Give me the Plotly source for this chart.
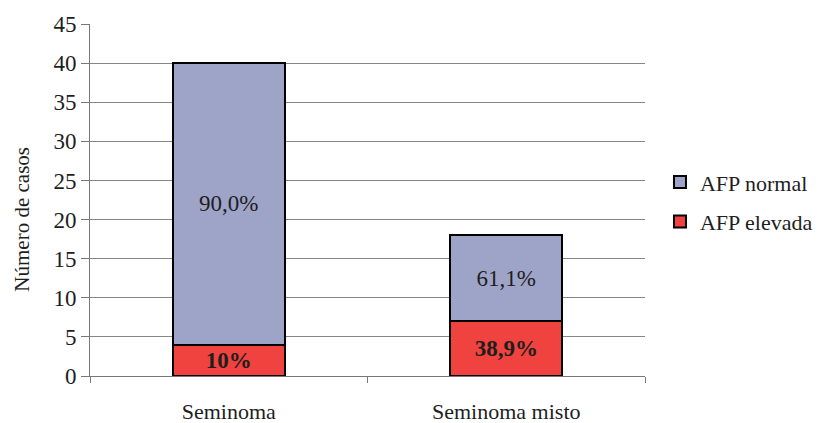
import plotly.graph_objects as go

categories = ["Seminoma", "Seminoma misto"]
afp_elevada = [4, 7]
afp_normal = [36, 11]
labels_elevada = ["<b>10%</b>", "<b>38,9%</b>"]
labels_normal = ["90,0%", "61,1%"]
y_ticks = list(range(0, 50, 5))

FONT = "Liberation Serif"
INK = "#1e1e1e"

fig = go.Figure()
fig.add_trace(go.Bar(
    x=categories, y=afp_elevada, name="AFP elevada",
    legendgroup="e", legendrank=2,
    marker=dict(color="#f0433f", line=dict(color="black", width=2)),
    text=labels_elevada, textposition="inside", insidetextanchor="middle",
    textangle=0, textfont=dict(family=FONT, size=23, color=INK),
))
fig.add_trace(go.Bar(
    x=categories, y=afp_normal, name="AFP normal",
    legendgroup="n", legendrank=1,
    marker=dict(color="#9ea3c8", line=dict(color="black", width=2)),
    text=labels_normal, textposition="inside", insidetextanchor="middle",
    textangle=0, textfont=dict(family=FONT, size=23, color=INK),
))

fig.update_layout(
    width=824, height=423,
    barmode="stack", bargap=0.595,
    plot_bgcolor="white", paper_bgcolor="white",
    margin=dict(l=90, r=179, t=24, b=47, autoexpand=False),
    font=dict(family=FONT, size=22, color=INK),
    showlegend=True,
    legend=dict(
        traceorder="grouped", x=1.027, xanchor="left", y=0.494, yanchor="middle",
        font=dict(family=FONT, size=22, color=INK),
        itemwidth=30, tracegroupgap=8,
    ),
    annotations=[dict(
        text="Número de casos", textangle=-90, showarrow=False,
        xref="paper", yref="paper", x=-0.122, y=0.445,
        xanchor="center", yanchor="middle",
        font=dict(family=FONT, size=21, color=INK),
    )],
)
fig.update_xaxes(
    showline=True, linecolor="#777", linewidth=1,
    ticks="outside", tickson="boundaries", ticklen=6, tickcolor="#777",
    tickfont=dict(family=FONT, size=22, color=INK),
    ticklabelstandoff=16, automargin=False,
)
fig.update_yaxes(
    range=[0, 45], tickvals=y_ticks,
    showline=True, linecolor="#777", linewidth=1,
    ticks="outside", ticklen=8, tickcolor="#777",
    showgrid=True, gridcolor="#858585", gridwidth=1,
    zeroline=False, automargin=False,
    tickfont=dict(family=FONT, size=23, color=INK),
)

fig.write_html("out.html")
